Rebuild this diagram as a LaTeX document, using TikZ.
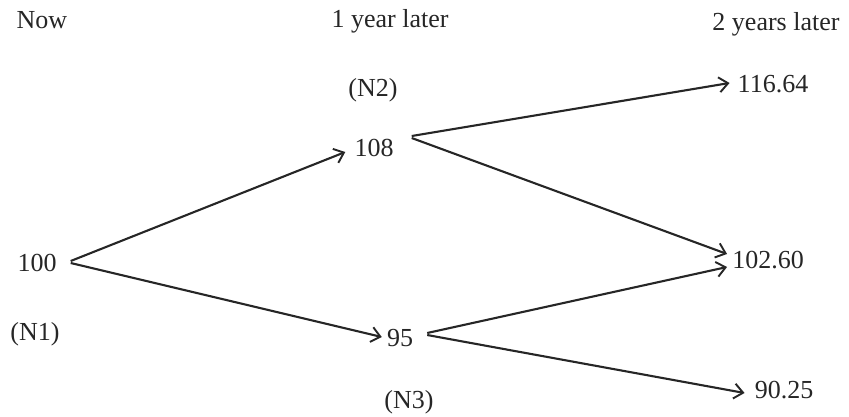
\documentclass[tikz,border=0pt]{standalone}
\usepackage{fontspec}
\setmainfont{Liberation Serif}
\usetikzlibrary{arrows.meta}
\definecolor{ink}{HTML}{262626}
\begin{document}
\begin{tikzpicture}[x=1pt,y=-1pt,
  lbl/.style={font=\fontsize{26}{29}\selectfont, text=ink, inner sep=0pt, anchor=center},
  arr/.style={draw=ink, line width=2.1pt, -{Straight Barb[length=9pt,width=15pt,line width=1.9pt]}}]
\useasboundingbox (0,0) rectangle (849,416);
% headers
\node[lbl] (now) at (42,20) {Now};
\node[lbl] (y1) at (390,21) {1 year later};
\node[lbl] (y2) at (776,24) {2 years later};
% node labels
\node[lbl] (N1) at (35,334) {(N1)};
\node[lbl] (N2) at (373,90) {(N2)};
\node[lbl] (N3) at (409,402) {(N3)};
% values
\node[lbl] (a) at (37,263) {100};
\node[lbl] (b) at (374,148) {108};
\node[lbl] (c) at (400,338) {95};
\node[lbl] (d) at (773,84) {116.64};
\node[lbl] (e) at (768,260) {102.60};
\node[lbl] (f) at (784,390) {90.25};
% arrows (yshift is upward on the page)
\draw[arr] ([xshift=14pt,yshift=2pt]a.east) -- ([xshift=-9pt,yshift=-4pt]b.west);
\draw[arr] ([xshift=14pt,yshift=0pt]a.east) -- ([xshift=-5pt,yshift=1pt]c.west);
\draw[arr] ([xshift=18pt,yshift=12pt]b.east) -- ([xshift=-8pt,yshift=1pt]d.west);
\draw[arr] ([xshift=18pt,yshift=10pt]b.east) -- ([xshift=-5pt,yshift=6pt]e.west);
\draw[arr] ([xshift=14pt,yshift=5pt]c.east) -- ([xshift=-5pt,yshift=-7pt]e.west);
\draw[arr] ([xshift=14pt,yshift=3pt]c.east) -- ([xshift=-10pt,yshift=-3pt]f.west);
\end{tikzpicture}
\end{document}
